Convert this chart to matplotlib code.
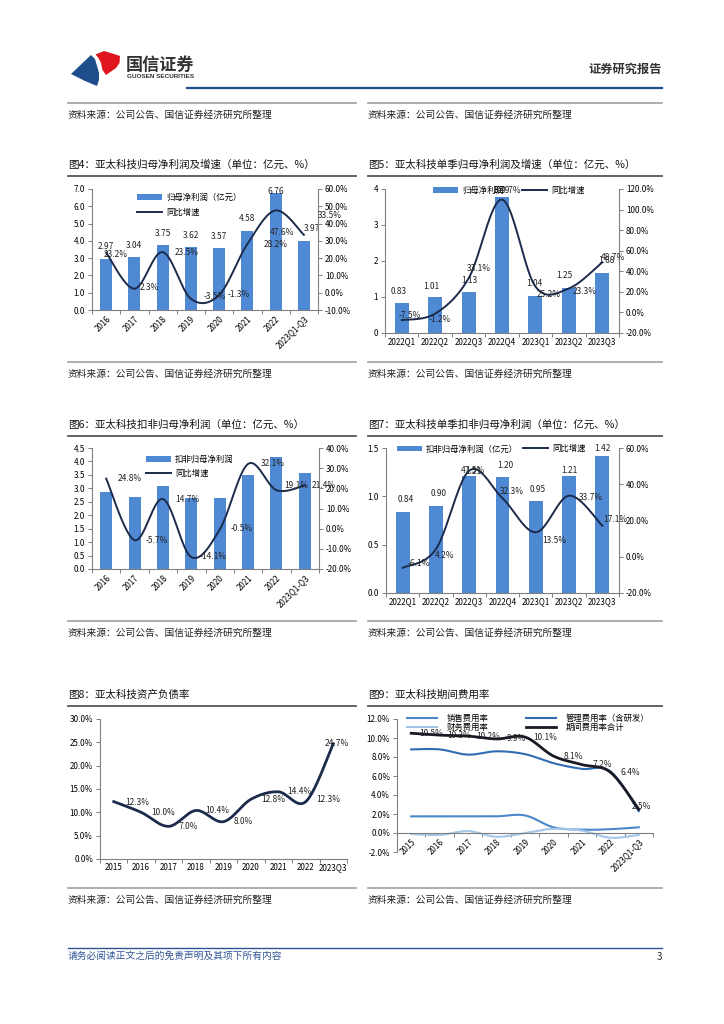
import numpy as np
import matplotlib
matplotlib.use('Agg')
import matplotlib.pyplot as plt
from matplotlib.lines import Line2D
from matplotlib.patches import Polygon

plt.rcParams['font.family'] = ['Noto Sans CJK SC', 'DejaVu Sans']
plt.rcParams['axes.unicode_minus'] = False

W, H = 724, 1024

# ---------------- data ----------------
years_a = ['2016', '2017', '2018', '2019', '2020', '2021', '2022', '2023Q1-Q3']
quarters = ['2022Q1', '2022Q2', '2022Q3', '2022Q4', '2023Q1', '2023Q2', '2023Q3']
years_b = ['2015', '2016', '2017', '2018', '2019', '2020', '2021', '2022', '2023Q3']
years_c = ['2015', '2016', '2017', '2018', '2019', '2020', '2021', '2022', '2023Q1-Q3']

# fig 4 annual net profit attributable (亿元) and yoy (%)
profit_a = [2.97, 3.04, 3.75, 3.62, 3.57, 4.58, 6.76, 3.97]
profit_a_yoy = [23.2, 2.3, 23.5, -3.5, -1.3, 28.2, 47.6, 33.5]
# fig 5 quarterly
profit_q = [0.83, 1.01, 1.13, 3.79, 1.04, 1.25, 1.68]
profit_q_yoy = [-7.5, -1.2, 33.1, 109.7, 25.2, 23.3, 48.7]
# fig 6 annual deducted net profit
deduct_a = [2.85, 2.69, 3.09, 2.65, 2.64, 3.49, 4.15, 3.58]
deduct_a_yoy = [24.8, -5.7, 14.7, -14.1, -0.5, 32.1, 19.1, 21.4]
# fig 7 quarterly deducted net profit
deduct_q = [0.84, 0.90, 1.21, 1.20, 0.95, 1.21, 1.42]
deduct_q_yoy = [-6.1, 4.2, 47.5, 32.3, 13.5, 33.7, 17.1]
# fig 8 debt ratio (%)
debt_ratio = [12.3, 10.0, 7.0, 10.4, 8.0, 12.8, 14.4, 12.3, 24.7]
# fig 9 expense ratios (%)
sales_rate = [1.75, 1.75, 1.75, 1.75, 1.85, 0.6, 0.35, 0.4, 0.6]
admin_rate = [8.8, 8.8, 8.25, 8.6, 8.3, 7.35, 6.75, 6.5, 2.3]
fin_rate = [-0.1, -0.2, 0.2, -0.4, 0.0, 0.45, 0.25, -0.5, -0.2]
total_rate = [10.5, 10.3, 10.2, 9.9, 10.1, 8.1, 7.2, 6.4, 2.5]

BAR = '#4F89D3'
LINE = '#1C2B4B'
GRAY = '#808080'

fig = plt.figure(figsize=(W / 100, H / 100), dpi=100)


def fx(x):
    return x / W


def fy(y):
    return 1 - y / H


def px_axes(x0, y0, x1, y1):
    return fig.add_axes([fx(x0), fy(y1), (x1 - x0) / W, (y1 - y0) / H])


def hline(x0, x1, y, color, lw):
    fig.add_artist(Line2D([fx(x0), fx(x1)], [fy(y), fy(y)], color=color, lw=lw,
                          transform=fig.transFigure))


def smooth(x, y, n=24):
    # Excel-like smoothed line (cubic Bezier through the points)
    x = np.asarray(x, float)
    y = np.asarray(y, float)
    px = np.r_[x[0], x, x[-1]]
    py = np.r_[y[0], y, y[-1]]
    t = np.linspace(0, 1, n)[:, None]
    xs, ys = [], []
    for i in range(1, len(px) - 2):
        p0 = np.array([px[i - 1], py[i - 1]])
        p1 = np.array([px[i], py[i]])
        p2 = np.array([px[i + 1], py[i + 1]])
        p3 = np.array([px[i + 2], py[i + 2]])
        c1 = p1 + (p2 - p0) / 6
        c2 = p2 - (p3 - p1) / 6
        b = ((1 - t) ** 3) * p1 + 3 * ((1 - t) ** 2) * t * c1 + 3 * (1 - t) * t ** 2 * c2 + t ** 3 * p2
        xs.append(b[:, 0])
        ys.append(b[:, 1])
    return np.concatenate(xs), np.concatenate(ys)


def style_x(ax, cats, rot):
    x = np.arange(len(cats))
    ax.set_xlim(-0.5, len(cats) - 0.5)
    ax.set_xticks(x)
    if rot:
        ax.set_xticklabels(cats, rotation=45, ha='right', rotation_mode='anchor', fontsize=5.8)
    else:
        ax.set_xticklabels(cats, fontsize=5.8)
    ax.set_xticks(np.arange(-0.5, len(cats)), minor=True)
    ax.tick_params(axis='x', which='major', length=0, pad=3)
    ax.tick_params(axis='x', which='minor', length=3, width=0.7, color=GRAY)


def label_points(ax, xs, ys, texts, offs, size=6):
    for xi, yi, t, (dx, dy) in zip(xs, ys, texts, offs):
        ax.annotate(t, (xi, yi), xytext=(dx, -dy), textcoords='offset pixels',
                    ha='center', va='center', fontsize=size, color='#222222',
                    annotation_clip=False)


def combo(rect, cats, bars, yoy, lticks, lfmt, rticks, rot, bar_off, line_off,
          leg_labels, leg_kw):
    ax = px_axes(*rect)
    x = np.arange(len(cats))
    bc = ax.bar(x, bars, width=0.42, color=BAR, zorder=2)
    ax.set_ylim(lticks[0], lticks[-1])
    ax.set_yticks(lticks)
    ax.set_yticklabels([lfmt.format(v) for v in lticks], fontsize=5.8)
    style_x(ax, cats, rot)
    ax.tick_params(axis='y', length=3, width=0.7, color=GRAY, pad=2)
    for s in ['top', 'right']:
        ax.spines[s].set_visible(False)
    for s in ['left', 'bottom']:
        ax.spines[s].set_color(GRAY)
        ax.spines[s].set_linewidth(0.8)

    ax2 = ax.twinx()
    sx, sy = smooth(x, yoy)
    ln, = ax2.plot(sx, sy, color=LINE, lw=1.4, zorder=3)
    ax2.set_ylim(rticks[0], rticks[-1])
    ax2.set_yticks(rticks)
    ax2.set_yticklabels(['{:.1f}%'.format(v) for v in rticks], fontsize=5.8)
    ax2.tick_params(axis='y', length=3, width=0.7, color=GRAY, pad=2)
    for s in ['top', 'left', 'bottom']:
        ax2.spines[s].set_visible(False)
    ax2.spines['right'].set_color(GRAY)
    ax2.spines['right'].set_linewidth(0.8)

    if bar_off is not None:
        label_points(ax, x, bars, ['{:.2f}'.format(v) for v in bars], bar_off)
    label_points(ax2, x, yoy, ['{:.1f}%'.format(v) for v in yoy], line_off)
    ax2.legend([bc, ln], leg_labels, loc='upper left', frameon=False, fontsize=6,
               borderpad=0, borderaxespad=0, handleheight=0.7, **leg_kw)
    return ax, ax2


# ---------------- header ----------------
blue_logo = [(71, 74), (91, 55), (95, 59), (97, 66), (99, 73), (99, 80), (97, 86), (85, 81)]
red_logo = [(95.5, 54.5), (104, 51), (114, 54), (120, 56), (119.5, 63), (116, 68), (106, 75),
            (102.5, 70), (101, 63), (98.5, 58)]
for pts, c in [(blue_logo, '#1E4D8C'), (red_logo, '#E0161E')]:
    fig.add_artist(Polygon([(fx(a), fy(b)) for a, b in pts], closed=True, facecolor=c,
                           edgecolor='none', transform=fig.transFigure))
fig.text(fx(126), fy(65), '国信证券', fontsize=12.3, fontweight='bold', color='#333333',
         ha='left', va='center')
fig.text(fx(127), fy(76.5), 'GUOSEN SECURITIES', fontsize=4.6, fontweight='bold',
         color='#333333', ha='left', va='center', family=['Liberation Sans', 'DejaVu Sans'])
fig.text(fx(662), fy(69), '证券研究报告', fontsize=8.8, fontweight='bold', color='#333333',
         ha='right', va='center')
hline(187, 662, 88, '#1F4E8C', 1.6)

# ---------------- section frames ----------------
COLS = [(68, 356), (368, 662)]
SRC = '资料来源：公司公告、国信证券经济研究所整理'
for ys in [103, 362, 621, 888]:
    for x0, x1 in COLS:
        hline(x0, x1, ys, '#A0A0A0', 1.2)
        fig.text(fx(x0), fy(ys + 11.5), SRC, fontsize=7.0, color='#222222', ha='left', va='center')

titles = [
    (165, '图4：亚太科技归母净利润及增速（单位：亿元、%）', '图5：亚太科技单季归母净利润及增速（单位：亿元、%）'),
    (425, '图6：亚太科技扣非归母净利润（单位：亿元、%）', '图7：亚太科技单季扣非归母净利润（单位：亿元、%）'),
    (695, '图8：亚太科技资产负债率', '图9：亚太科技期间费用率'),
]
for yt, tl, tr in titles:
    for (x0, x1), t in zip(COLS, [tl, tr]):
        fig.text(fx(x0), fy(yt), t, fontsize=7.6, color='#111111', ha='left', va='center')
        hline(x0, x1, yt + 11, '#555555', 1.3)

# ---------------- fig 4 ----------------
combo((92, 189, 318, 310), years_a, profit_a, profit_a_yoy,
      np.arange(0, 7.01, 1), '{:.1f}', np.arange(-10, 60.1, 10), True,
      [(0, -12)] * 6 + [(0, -2), (8, -13)],
      [(10, 2), (15, -1), (24, 0), (24, -2), (20, 0), (28, 1), (6, 22), (26, -19)],
      ['归母净利润（亿元）', '同比增速'],
      dict(bbox_to_anchor=(0.2, 0.965), handlelength=3.0, labelspacing=0.7, handletextpad=0.5))

# ---------------- fig 5 ----------------
combo((385, 189, 619, 333), quarters, profit_q, profit_q_yoy,
      np.arange(0, 4.01, 1), '{:.0f}', np.arange(-20, 120.1, 20), False,
      [(-3, -12), (-4, -10), (1, -12), (0, -6), (-1, -12), (-4, -12), (4, -12)],
      [(8, -5), (5, 6), (10, -10), (5, -9), (13, 8), (16, 3), (11, -5)],
      ['归母净利润', '同比增速'],
      dict(bbox_to_anchor=(0.204, 1.02), ncol=2, handlelength=3.0, columnspacing=2.2,
           handletextpad=0.5))

# ---------------- fig 6 ----------------
combo((92, 448, 319, 569), years_a, deduct_a, deduct_a_yoy,
      np.arange(0, 4.51, 0.5), '{:.1f}', np.arange(-20, 40.1, 10), True,
      None,
      [(24, 0), (22, 0), (24, 0), (22, -1), (22, -1), (25, 0), (20, -5), (19, 0)],
      ['扣非归母净利润', '同比增速'],
      dict(bbox_to_anchor=(0.238, 0.945), handlelength=3.0, labelspacing=0.6, handletextpad=0.5))

# ---------------- fig 7 ----------------
combo((386, 448, 619, 593), quarters, deduct_q, deduct_q_yoy,
      np.arange(0, 1.51, 0.5), '{:.1f}', np.arange(-20, 60.1, 20), False,
      [(3, -12), (3, -12), (4, -5), (3, -12), (2, -12), (0, -6), (0, -7)],
      [(16, -4), (9, 6), (4, 0), (9, -7), (18, 8), (22, 2), (13, -6)],
      ['扣非归母净利润（亿元）', '同比增速'],
      dict(bbox_to_anchor=(0.046, 1.025), ncol=2, handlelength=3.0, columnspacing=0.6,
           handletextpad=0.5))

# ---------------- fig 8 ----------------
ax8 = px_axes(100, 719, 347, 859)
x8 = np.arange(len(years_b))
sx, sy = smooth(x8, debt_ratio)
ax8.plot(sx, sy, color=LINE, lw=2.0)
ax8.set_ylim(0, 30)
yt8 = np.arange(0, 30.1, 5)
ax8.set_yticks(yt8)
ax8.set_yticklabels(['{:.1f}%'.format(v) for v in yt8], fontsize=5.8)
style_x(ax8, years_b, False)
ax8.tick_params(axis='y', length=3, width=0.7, color=GRAY, pad=2)
for s in ['top', 'right']:
    ax8.spines[s].set_visible(False)
for s in ['left', 'bottom']:
    ax8.spines[s].set_color(GRAY)
    ax8.spines[s].set_linewidth(0.8)
label_points(ax8, x8, debt_ratio, ['{:.1f}%'.format(v) for v in debt_ratio],
             [(24, 1), (22, 0), (20, 0), (21, 0), (20, 0), (22, 0), (21, 0), (22, -2), (4, 0)])

# ---------------- fig 9 ----------------
ax9 = px_axes(397, 719, 653, 852)
ax9.spines['bottom'].set_position(('data', 0))
x9 = np.arange(len(years_c))
series9 = [
    (sales_rate, '销售费用率', '#4A87C8', 1.5),
    (fin_rate, '财务费用率', '#A4C6E8', 1.5),
    (admin_rate, '管理费用率（含研发）', '#2F6DB3', 1.5),
    (total_rate, '期间费用率合计', '#1A1A26', 2.0),
]
h9 = []
for vals, name, col, lw in series9:
    sx, sy = smooth(x9, vals)
    ln, = ax9.plot(sx, sy, color=col, lw=lw, label=name)
    h9.append(ln)
ax9.set_ylim(-2, 12)
yt9 = np.arange(-2, 12.1, 2)
ax9.set_yticks(yt9)
ax9.set_yticklabels(['{:.1f}%'.format(v) for v in yt9], fontsize=5.8)
style_x(ax9, years_c, True)
ax9.tick_params(axis='y', length=3, width=0.7, color=GRAY, pad=2)
for s in ['top', 'right']:
    ax9.spines[s].set_visible(False)
for s in ['left', 'bottom']:
    ax9.spines[s].set_color(GRAY)
    ax9.spines[s].set_linewidth(0.8)
label_points(ax9, x9, total_rate, ['{:.1f}%'.format(v) for v in total_rate],
             [(20, 0)] * 8 + [(3, -3)])
ax9.legend(handles=h9, loc='upper left', bbox_to_anchor=(0.038, 1.035), ncol=2,
           frameon=False, fontsize=6, borderpad=0, borderaxespad=0, handlelength=3.6,
           handletextpad=1.2, columnspacing=4.5, labelspacing=-0.05)

# ---------------- footer ----------------
hline(68, 662, 948, '#2F5597', 1.0)
fig.text(fx(68), fy(956), '请务必阅读正文之后的免责声明及其项下所有内容', fontsize=7.0,
         color='#2F5597', style='italic', ha='left', va='center')
fig.text(fx(662), fy(957), '3', fontsize=7, color='#222222', ha='right', va='center')

fig.savefig('out.png', dpi=100)
